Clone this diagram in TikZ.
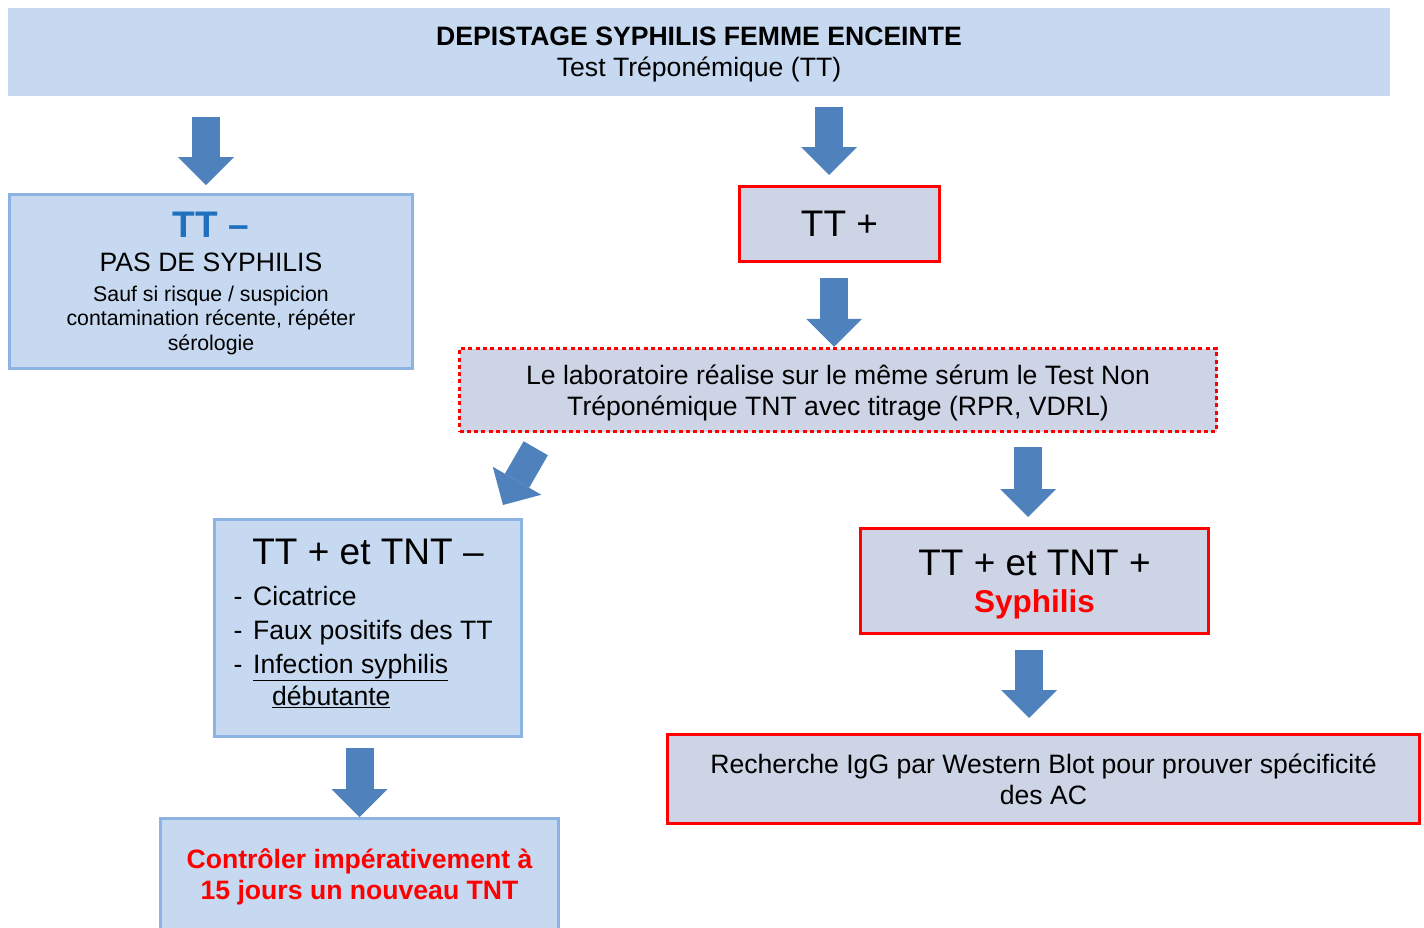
\documentclass[tikz,border=0pt]{standalone}
\usepackage{fontspec}
\setmainfont{Liberation Sans}
\usetikzlibrary{arrows.meta,calc,positioning}
\definecolor{boxfill}{RGB}{198,217,240}
\definecolor{boxline}{RGB}{141,179,226}
\definecolor{greyfill}{RGB}{205,212,230}
\definecolor{arrowblue}{RGB}{79,129,189}
\definecolor{ttblue}{RGB}{31,112,190}
\definecolor{alarmred}{RGB}{255,0,0}
\newcommand\fntnorm{\fontsize{26.6}{31}\selectfont}
\newcommand\fntbig{\fontsize{37}{37}\selectfont}
\newcommand\fntsmall{\fontsize{21.3}{24.5}\selectfont}

\begin{document}
\begin{tikzpicture}[x=1pt,y=-1pt,
  bluebox/.style={draw=boxline,fill=boxfill,line width=3pt,align=center},
  redbox/.style={draw=alarmred,fill=greyfill,line width=3pt,align=center},
  dotbox/.style={draw=alarmred,fill=greyfill,line width=3.5pt,dash pattern=on 4pt off 3.3pt,align=center},
  blockarrow/.style={draw=arrowblue,line width=28pt,-{Triangle[length=28pt,width=56pt,line width=0pt]}}]
%Koordinaten in Pixeln des Bildes (y nach unten)
\useasboundingbox[fill=white] (0,0) rectangle (1424,927);
\node[bluebox,draw=none,minimum width=1382pt,minimum height=88pt,font=\fntnorm,text depth=-2pt] (title) at (699,52)
  {\textbf{DEPISTAGE SYPHILIS FEMME ENCEINTE}\\Test Tréponémique (TT)};
\node[bluebox,minimum width=403pt,minimum height=174pt,font=\fntsmall,text depth=-6pt] (ttneg) at (211,281.5)
  {{\color{ttblue}\bfseries\fntbig TT –}\\[9pt]{\fntnorm PAS DE SYPHILIS}\\[5.5pt]Sauf si risque / suspicion\\contamination récente, répéter\\sérologie};
\node[redbox,minimum width=200pt,minimum height=75pt,font=\fntbig] (ttpos) at (839.5,224) {TT +};
\node[dotbox,minimum width=757pt,minimum height=83pt,font=\fntnorm,text depth=0pt] (lab) at (838,390)
  {Le laboratoire réalise sur le même sérum le Test Non\\Tréponémique TNT avec titrage (RPR, VDRL)};
%linker Zweig
\node[bluebox,minimum width=307pt,minimum height=217pt] (tntneg) at (368,628) {};
\node[font=\fntbig] (tntnegtitle) at (368,552) {TT + et TNT –};
\node[anchor=base west,inner sep=0pt,font=\fontsize{26.6}{34}\selectfont] (tntneglist) at (233.5,605.5)
  {\begin{tabular}[t]{@{}l@{\hspace{10.6pt}}l@{}}
   - & Cicatrice\\
   - & Faux positifs des TT\\
   - & \underline{Infection syphilis}\\[-2pt]
     & \hspace{19pt}\underline{débutante}
   \end{tabular}};
\node[bluebox,minimum width=398pt,minimum height=111pt,font=\fntnorm\bfseries,text=alarmred,text depth=0pt] (controle) at (359.5,874)
  {Contrôler impérativement à\\15 jours un nouveau TNT};
%rechter Zweig
\node[redbox,minimum width=348pt,minimum height=105pt,font=\fntbig,text depth=-4pt] (ttntpos) at (1034.5,581)
  {TT + et TNT +\\{\color{alarmred}\bfseries\fontsize{31.5}{37}\selectfont Syphilis}};
\node[redbox,minimum width=752pt,minimum height=89pt,font=\fntnorm,text depth=0pt] (western) at (1043.5,779)
  {Recherche IgG par Western Blot pour prouver spécificité\\des AC};
%Pfeile
\draw[blockarrow,shorten <=19pt,shorten >=8pt] ($(ttneg.north |- title.south)+(-5pt,0pt)$) -- ($(ttneg.north)+(-5pt,0pt)$);
\draw[blockarrow,shorten <=9pt,shorten >=10pt] ($(ttpos.north |- title.south)+(-10.5pt,0pt)$) -- ($(ttpos.north)+(-10.5pt,0pt)$);
\draw[blockarrow,shorten <=15pt] ($(ttpos.south)+(-5.5pt,0pt)$) -- ($(ttpos.south |- lab.north)+(-5.5pt,0pt)$);
\draw[blockarrow] ($(lab.south west)+(78pt,-15pt)$) -- ($(tntneg.north west)+(290pt,13pt)$);
\draw[blockarrow,shorten <=14pt,shorten >=10pt] ($(ttntpos.north |- lab.south)+(-6.5pt,0pt)$) -- ($(ttntpos.north)+(-6.5pt,0pt)$);
\draw[blockarrow,shorten <=15pt,shorten >=15pt] ($(ttntpos.south)+(-5.5pt,0pt)$) -- ($(ttntpos.south |- western.north)+(-5.5pt,0pt)$);
\draw[blockarrow,shorten <=10pt] (controle.north |- tntneg.south) -- (controle.north);
\end{tikzpicture}
\end{document}
